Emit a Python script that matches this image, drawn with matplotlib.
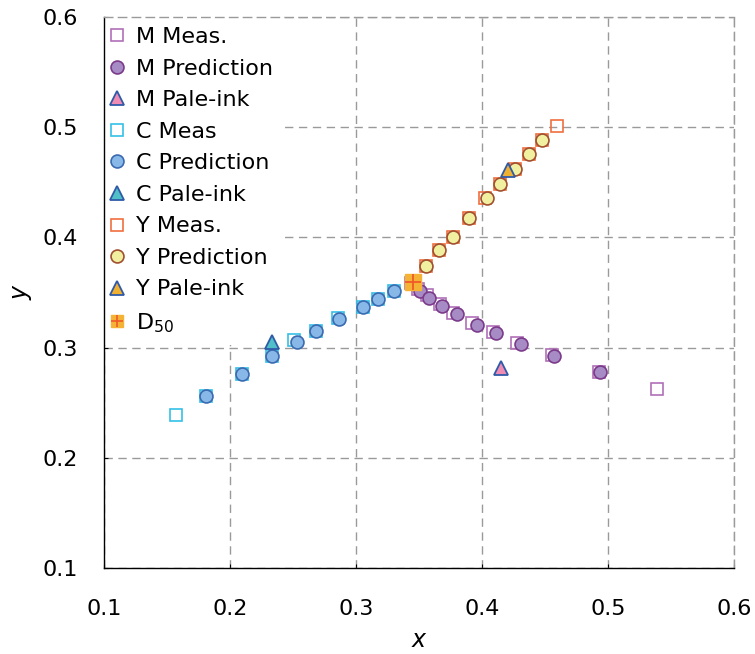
import matplotlib
matplotlib.use('Agg')
import matplotlib.pyplot as plt

plt.rcParams['font.family'] = ['DejaVu Sans']
plt.rcParams['mathtext.fontset'] = 'dejavusans'

# M (magenta)
m_meas_x = [0.344, 0.3492, 0.3563, 0.3667, 0.3772, 0.3918, 0.4090, 0.4280, 0.4558, 0.4930, 0.5389]
m_meas_y = [0.359, 0.3532, 0.3477, 0.3393, 0.3317, 0.3220, 0.3144, 0.3044, 0.2930, 0.2779, 0.2624]
m_pred_x = [0.3508, 0.3582, 0.3680, 0.3799, 0.3958, 0.4108, 0.4307, 0.4574, 0.4937]
m_pred_y = [0.3514, 0.3453, 0.3380, 0.3305, 0.3208, 0.3132, 0.3033, 0.2927, 0.2779]
m_pale_x = [0.4151]
m_pale_y = [0.2818]

# C (cyan)
c_meas_x = [0.1569, 0.1807, 0.2093, 0.2333, 0.2508, 0.2680, 0.2855, 0.3053, 0.3172, 0.3299]
c_meas_y = [0.2388, 0.2564, 0.2758, 0.2924, 0.3069, 0.3153, 0.3270, 0.3371, 0.3438, 0.3514]
c_pred_x = [0.1807, 0.2093, 0.2333, 0.2529, 0.2680, 0.2868, 0.3053, 0.3172, 0.3299]
c_pred_y = [0.2564, 0.2758, 0.2924, 0.3048, 0.3153, 0.3259, 0.3371, 0.3438, 0.3514]
c_pale_x = [0.2333]
c_pale_y = [0.3048]

# Y (yellow)
y_meas_x = [0.3556, 0.3661, 0.3767, 0.3899, 0.4024, 0.4145, 0.4262, 0.4373, 0.4479, 0.4595]
y_meas_y = [0.3743, 0.3883, 0.4004, 0.4179, 0.4355, 0.4482, 0.4623, 0.4757, 0.4887, 0.5008]
y_pred_x = [0.3556, 0.3661, 0.3767, 0.3899, 0.4037, 0.4145, 0.4262, 0.4373, 0.4479]
y_pred_y = [0.3743, 0.3883, 0.4004, 0.4179, 0.4355, 0.4482, 0.4623, 0.4757, 0.4887]
y_pale_x = [0.4209]
y_pale_y = [0.4612]

d50_x = [0.3455]
d50_y = [0.3593]

ticks = [0.1, 0.2, 0.3, 0.4, 0.5, 0.6]

fig = plt.figure(figsize=(7.55, 6.54), dpi=100)
ax = fig.add_axes([0.1377, 0.1315, 0.8345, 0.8425])

ms = 9.3
tri_edge = '#2F5AA8'
z = 3

ax.plot(m_meas_x, m_meas_y, 's', ms=ms, mfc='none', mec='#B070B8', mew=1.2, zorder=z, label='M Meas.')
ax.plot(m_pred_x, m_pred_y, 'o', ms=ms, mfc='#A68BC4', mec='#7B3A8A', mew=1.2, zorder=z, label='M Prediction')
ax.plot(m_pale_x, m_pale_y, '^', ms=ms + 1, mfc='#F08CB4', mec=tri_edge, mew=1.3, zorder=z, label='M Pale-ink')

ax.plot(c_meas_x, c_meas_y, 's', ms=ms, mfc='none', mec='#35C0E8', mew=1.2, zorder=z, label='C Meas')
ax.plot(c_pred_x, c_pred_y, 'o', ms=ms, mfc='#88B8E8', mec='#3A6AB0', mew=1.2, zorder=z, label='C Prediction')
ax.plot(c_pale_x, c_pale_y, '^', ms=ms + 1, mfc='#4FC0C8', mec=tri_edge, mew=1.3, zorder=z, label='C Pale-ink')

ax.plot(y_meas_x, y_meas_y, 's', ms=ms, mfc='none', mec='#F07040', mew=1.2, zorder=z, label='Y Meas.')
ax.plot(y_pred_x, y_pred_y, 'o', ms=ms, mfc='#F0F0A0', mec='#A05030', mew=1.2, zorder=z, label='Y Prediction')
ax.plot(y_pale_x, y_pale_y, '^', ms=ms + 1, mfc='#F0B030', mec=tri_edge, mew=1.3, zorder=z, label='Y Pale-ink')

# D50: filled square with a plus on top
ax.plot(d50_x, d50_y, 's', ms=12, mfc='#F5B335', mec='#F5B335', zorder=5)
ax.plot(d50_x, d50_y, '+', ms=11, mec='#F05A28', mew=1.3, zorder=6)
d50_handle = (plt.Line2D([], [], ls='none', marker='s', ms=ms, mfc='#F5B335', mec='#F5B335'),
              plt.Line2D([], [], ls='none', marker='+', ms=ms, mec='#F05A28', mew=1.2))

ax.set_xlim(0.1, 0.6)
ax.set_ylim(0.1, 0.6)
ax.set_xticks(ticks)
ax.set_yticks(ticks)
ax.set_xticklabels([f'{t:.1f}' for t in ticks])
ax.set_yticklabels([f'{t:.1f}' for t in ticks])
ax.tick_params(direction='in', length=3, labelsize=16, top=False, right=False)
ax.tick_params(axis='x', pad=22)
ax.tick_params(axis='y', pad=19)
ax.grid(True, color='#9A9A9A', linestyle=(0, (6, 4)), linewidth=1)
ax.set_axisbelow(True)
for s in ['top', 'right']:
    ax.spines[s].set_color('#9A9A9A')
    ax.spines[s].set_linestyle((0, (6, 4)))
    ax.spines[s].set_linewidth(1.0)
for s in ['left', 'bottom']:
    ax.spines[s].set_linewidth(1.0)

ax.set_xlabel('x', fontsize=17, style='italic', labelpad=7)
ax.set_ylabel('y', fontsize=17, style='italic', labelpad=7)

handles, labels = ax.get_legend_handles_labels()
handles.append(d50_handle)
labels.append(r'D$_{\mathregular{50}}$')
leg = ax.legend(handles, labels, loc='upper left', bbox_to_anchor=(-0.009, 1.0),
                fontsize=16, frameon=True, framealpha=1, edgecolor='none', fancybox=False,
                borderaxespad=0, borderpad=0.45, handlelength=0.8, handletextpad=0.45,
                labelspacing=0.52)
leg.set_zorder(2.4)  # above grid, below the spines and markers

fig.savefig('out.png', dpi=100)
